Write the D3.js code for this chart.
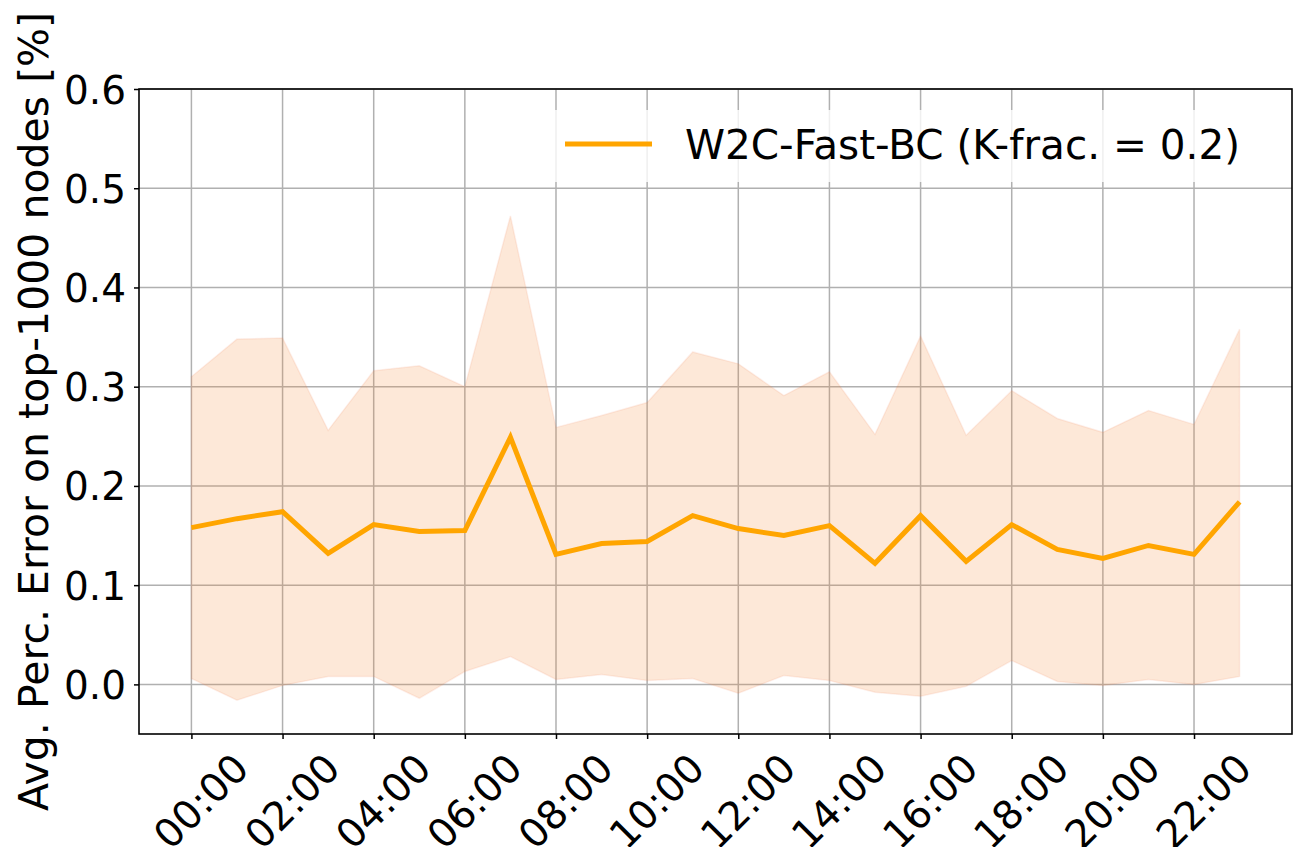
<!DOCTYPE html>
<html>
<head>
<meta charset="utf-8">
<script src="https://cdn.jsdelivr.net/npm/d3@7"></script>
<style>
  html, body { margin: 0; padding: 0; background: #fff; }
  text { font-family: "DejaVu Sans", sans-serif; fill: #000; }
</style>
</head>
<body>
<div class="svg-container"></div>
<script>
// hour of day (0..23) and the values
const hours = d3.range(0, 24);
const meanErr = [0.158, 0.167, 0.174, 0.132, 0.161, 0.154, 0.155, 0.249, 0.131, 0.142, 0.144, 0.170,
  0.157, 0.150, 0.160, 0.122, 0.170, 0.124, 0.161, 0.136, 0.127, 0.140, 0.131, 0.184];
const upperErr = [0.310, 0.348, 0.349, 0.256, 0.316, 0.321, 0.300, 0.472, 0.259, 0.271, 0.284, 0.335,
  0.323, 0.291, 0.315, 0.252, 0.351, 0.251, 0.296, 0.268, 0.254, 0.276, 0.262, 0.358];
const lowerErr = [0.006, -0.016, -0.001, 0.008, 0.008, -0.014, 0.013, 0.028, 0.005, 0.010, 0.004, 0.006,
  -0.009, 0.009, 0.004, -0.008, -0.012, -0.002, 0.024, 0.003, -0.001, 0.005, 0.000, 0.008];
const xTickValues = d3.range(0, 24, 2);
const yTickValues = [0.0, 0.1, 0.2, 0.3, 0.4, 0.5, 0.6];
const legendLabel = 'W2C-Fast-BC (K-frac. = 0.2)';
const yLabel = 'Avg. Perc. Error on top-1000 nodes [%]';

// set up required dimensions
const width = 1296;
const height = 847;
const margin = { top: 89, right: 4, bottom: 113, left: 139 };

const svg = d3.select('.svg-container')
  .append('svg')
  .attr('width', width)
  .attr('height', height)

const x = d3.scaleLinear()
  .domain([-1.15, 24.15])
  .range([margin.left, width - margin.right]);

const y = d3.scaleLinear()
  .domain([-0.05, 0.6])
  .range([height - margin.bottom, margin.top]);

// grid lines
const grid = svg.append('g');
grid.selectAll('.vgrid')
  .data(xTickValues)
  .enter()
  .append('line')
  .attr('x1', d => x(d)).attr('x2', d => x(d))
  .attr('y1', y.range()[0]).attr('y2', y.range()[1])
  .attr('stroke', '#b0b0b0')
  .attr('stroke-width', 1.5);
grid.selectAll('.hgrid')
  .data(yTickValues)
  .enter()
  .append('line')
  .attr('x1', x.range()[0]).attr('x2', x.range()[1])
  .attr('y1', d => y(d)).attr('y2', d => y(d))
  .attr('stroke', '#b0b0b0')
  .attr('stroke-width', 1.5);

// shaded band
const area = d3.area()
  .x((d, i) => x(hours[i]))
  .y0((d, i) => y(lowerErr[i]))
  .y1((d, i) => y(upperErr[i]));

svg.append('path')
  .datum(hours)
  .attr('d', area)
  .attr('fill', '#f58c3c')
  .attr('fill-opacity', 0.2)
  .attr('stroke', '#f07850')
  .attr('stroke-opacity', 0.12)
  .attr('stroke-width', 1.5);

// mean line
const line = d3.line()
  .x((d, i) => x(hours[i]))
  .y(d => y(d));

svg.append('path')
  .datum(meanErr)
  .attr('d', line)
  .attr('fill', 'none')
  .attr('stroke', '#ffa500')
  .attr('stroke-width', 5)
  .attr('stroke-linejoin', 'miter');

// axes
const xAxis = svg.append('g')
  .attr('transform', `translate(0,${height - margin.bottom})`)
  .call(d3.axisBottom(x).tickValues(xTickValues).tickSize(5).tickSizeOuter(0)
    .tickFormat(d => d3.format('02d')(d) + ':00'));

// rotated labels, centred a little right of and below the tick
xAxis.selectAll('text')
  .attr('font-size', 39.5)
  .attr('text-anchor', 'middle')
  .attr('dominant-baseline', 'central')
  .attr('y', 0)
  .attr('dy', 0)
  .attr('transform', 'translate(9,67) rotate(-45)');

const yAxis = svg.append('g')
  .attr('transform', `translate(${margin.left},0)`)
  .call(d3.axisLeft(y).tickValues(yTickValues).tickSize(5).tickSizeOuter(0)
    .tickFormat(d3.format('.1f')));

yAxis.selectAll('text')
  .attr('font-size', 39)
  .attr('x', -13)
  .attr('dy', '0.36em');

svg.selectAll('.domain').remove();
svg.selectAll('.tick line').attr('stroke', '#000').attr('stroke-width', 1.5);

// frame
svg.append('rect')
  .attr('x', x.range()[0])
  .attr('y', y.range()[1])
  .attr('width', x.range()[1] - x.range()[0])
  .attr('height', y.range()[0] - y.range()[1])
  .attr('fill', 'none')
  .attr('stroke', '#000')
  .attr('stroke-width', 1.6);

// y label
svg.append('text')
  .attr('transform', `translate(48,${(y.range()[0] + y.range()[1]) / 2}) rotate(-90)`)
  .attr('text-anchor', 'middle')
  .attr('font-size', 41)
  .text(yLabel);

// legend
const legend = svg.append('g');
legend.append('rect')
  .attr('x', 548).attr('y', 110)
  .attr('width', 724).attr('height', 72)
  .attr('rx', 6)
  .attr('fill', '#fff')
  .attr('fill-opacity', 0.8);
legend.append('line')
  .attr('x1', 565).attr('x2', 652)
  .attr('y1', 144).attr('y2', 144)
  .attr('stroke', '#ffa500')
  .attr('stroke-width', 5);
legend.append('text')
  .attr('x', 685).attr('y', 145)
  .attr('dominant-baseline', 'central')
  .attr('font-size', 40.5)
  .text(legendLabel);
</script>
</body>
</html>
